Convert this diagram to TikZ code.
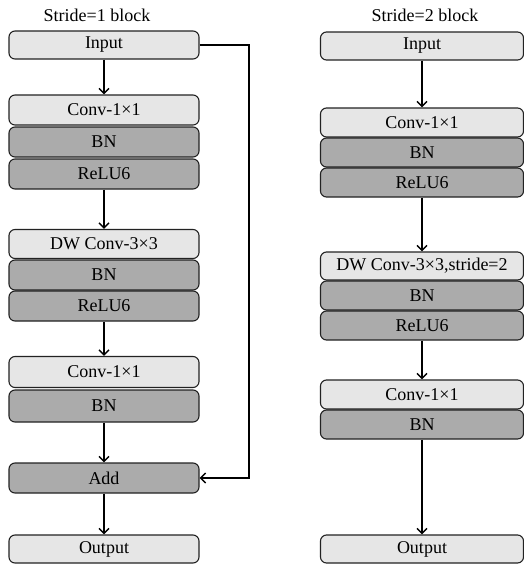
\documentclass[tikz,border=0pt]{standalone}
\usepackage{fontspec}
\setmainfont{Liberation Serif}
\usetikzlibrary{arrows.meta}
\definecolor{lightfill}{HTML}{E6E6E6}
\definecolor{darkfill}{HTML}{ABABAB}
\definecolor{edge}{HTML}{222222}
\tikzset{
  layer/.style={draw=edge, line width=1.1pt, rounded corners=6pt, inner sep=0pt,
    font=\fontsize{18}{18}\selectfont, text=black},
  lightbox/.style={layer, fill=lightfill},
  darkbox/.style={layer, fill=darkfill},
  flow/.style={draw=black, line width=1.4pt, -{Straight Barb[length=5pt,width=10pt,line width=1.4pt]}},
  caption/.style={font=\fontsize{18}{18}\selectfont, inner sep=0pt}
}
\begin{document}
\begin{tikzpicture}[x=1pt,y=-1pt]
\useasboundingbox (0,0) rectangle (524,565);

% ---- stride 1 block ----
\begin{scope}[every node/.append style={minimum width=190pt}]
\node[caption] (t1) at (97,15) {Stride=1 block};
\node[lightbox, minimum height=28pt] (in1) at (104,45) {Input};
\node[lightbox, minimum height=30pt] (c1a) at (104,110) {Conv-1×1};
\node[darkbox,  minimum height=30pt] (b1a) at (104,142) {BN};
\node[darkbox,  minimum height=30pt] (r1a) at (104,174) {ReLU6};
\node[lightbox, minimum height=29pt] (d1)  at (104,244) {DW Conv-3×3};
\node[darkbox,  minimum height=30pt] (b1b) at (104,275) {BN};
\node[darkbox,  minimum height=30pt] (r1b) at (104,306) {ReLU6};
\node[lightbox, minimum height=31pt] (c1b) at (104,372) {Conv-1×1};
\node[darkbox,  minimum height=32pt] (b1c) at (104,406) {BN};
\node[darkbox,  minimum height=30pt] (add) at (104,478) {Add};
\node[lightbox, minimum height=28pt] (out1) at (104,549) {Output};
\end{scope}

\draw[flow] (in1) -- (c1a);
\draw[flow] (r1a) -- (d1);
\draw[flow] (r1b) -- (c1b);
\draw[flow] (b1c) -- (add);
\draw[flow] (add) -- (out1);
\coordinate (sk1) at (249,45);
\coordinate (sk2) at (249,478);
\draw[flow] (in1.east) -- (sk1) -- (sk2) -- (add.east);

% ---- stride 2 block ----
\begin{scope}[every node/.append style={minimum width=203pt}]
\node[caption] (t2) at (425,15) {Stride=2 block};
\node[lightbox, minimum height=28pt] (in2) at (422,46) {Input};
\node[lightbox, minimum height=29pt] (c2a) at (422,122.5) {Conv-1×1};
\node[darkbox,  minimum height=29pt] (b2a) at (422,152.5) {BN};
\node[darkbox,  minimum height=29pt] (r2a) at (422,182.5) {ReLU6};
\node[lightbox, minimum height=28pt] (d2)  at (422,266) {DW Conv-3×3,stride=2};
\node[darkbox,  minimum height=29pt] (b2b) at (422,295.5) {BN};
\node[darkbox,  minimum height=29pt] (r2b) at (422,325.5) {ReLU6};
\node[lightbox, minimum height=29pt] (c2b) at (422,394.5) {Conv-1×1};
\node[darkbox,  minimum height=29pt] (b2c) at (422,424.5) {BN};
\node[lightbox, minimum height=28pt] (out2) at (422,549) {Output};
\end{scope}

\draw[flow] (in2) -- (c2a);
\draw[flow] (r2a) -- (d2);
\draw[flow] (r2b) -- (c2b);
\draw[flow] (b2c) -- (out2);
\end{tikzpicture}
\end{document}
